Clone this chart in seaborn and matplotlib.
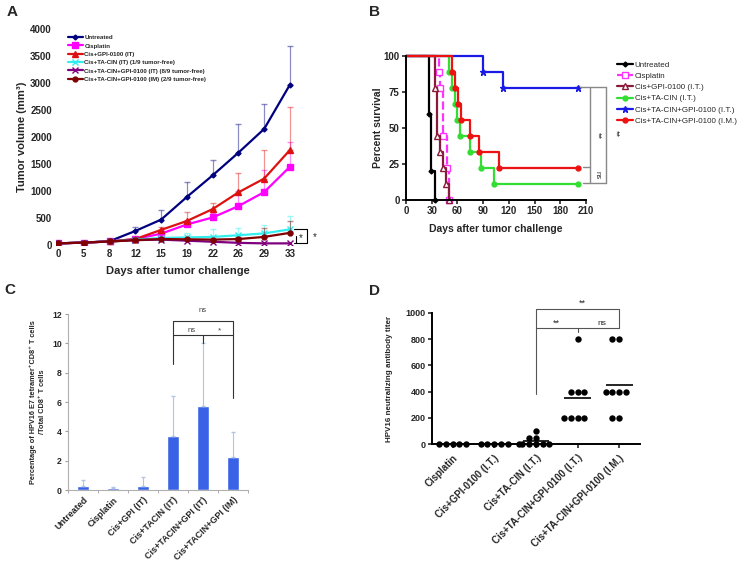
import numpy as np
import pandas as pd
import matplotlib
matplotlib.use("Agg")
import matplotlib.pyplot as plt
import seaborn as sns

# ---------------- data ----------------
# Panel A: tumor volume
a_days = [0, 5, 8, 12, 15, 19, 22, 26, 29, 33]
a_groups = ["Untreated", "Cisplatin", "Cis+GPI-0100 (IT)",
            "Cis+TA-CIN (IT) (1/9 tumor-free)",
            "Cis+TA-CIN+GPI-0100 (IT) (8/9 tumor-free)",
            "Cis+TA-CIN+GPI-0100 (IM) (2/9 tumor-free)"]
a_untreated = [30, 45, 70, 260, 470, 890, 1290, 1710, 2150, 2970]
a_cisplatin = [30, 45, 65, 110, 210, 380, 510, 720, 980, 1450]
a_cis_gpi = [30, 45, 65, 110, 280, 445, 665, 975, 1230, 1760]
a_tacin = [30, 45, 65, 100, 130, 140, 150, 180, 215, 290]
a_tacin_gpi_it = [30, 45, 65, 90, 100, 80, 60, 40, 30, 30]
a_tacin_gpi_im = [30, 45, 65, 90, 110, 105, 100, 110, 150, 225]
nan = np.nan
a_untreated_top = [nan, nan, nan, 330, 650, 1160, 1570, 2240, 2610, 3680]
a_cisplatin_top = [nan, nan, nan, 130, 250, 470, 600, 1000, 1380, 1900]
a_cis_gpi_top = [nan, nan, nan, nan, 330, 620, 780, 1340, 1750, 2550]
a_tacin_top = [nan, nan, nan, 140, 170, 220, 290, 320, 370, 530]
a_tacin_gpi_it_top = [nan, nan, nan, nan, 130, 110, 80, nan, nan, nan]
a_tacin_gpi_im_top = [nan, nan, nan, nan, nan, nan, nan, 150, 320, 440]

# Panel B: survival
b_groups = ["Untreated", "Cisplatin", "Cis+GPI-0100 (I.T.)", "Cis+TA-CIN (I.T.)",
            "Cis+TA-CIN+GPI-0100 (I.T.)", "Cis+TA-CIN+GPI-0100 (I.M.)"]
b_untreated_t = [0, 27, 29.5, 33.4]
b_untreated_s = [100, 60, 20, 0]
b_cisplatin_t = [0, 38, 40, 43, 47.7, 50.5]
b_cisplatin_s = [100, 88.9, 77.8, 44.4, 22.2, 0]
b_cis_gpi_t = [0, 33.4, 36, 40, 43, 47, 50.5]
b_cis_gpi_s = [100, 77.8, 44.4, 33.3, 22.2, 11.1, 0]
b_tacin_t = [0, 50, 54, 57, 60, 63, 75, 88, 103, 201]
b_tacin_s = [100, 88.9, 77.8, 66.7, 55.6, 44.4, 33.3, 22.2, 11.1, 11.1]
b_tacin_gpi_it_t = [0, 89.7, 113.7, 201]
b_tacin_gpi_it_s = [100, 88.9, 77.8, 77.8]
b_tacin_gpi_im_t = [0, 54, 57, 61, 64, 75, 85, 109, 201]
b_tacin_gpi_im_s = [100, 88.9, 77.8, 66.7, 55.6, 44.4, 33.3, 22.2, 22.2]

# Panel C: tetramer bars
c_labels = ["Untreated", "Cisplatin", "Cis+GPI (IT)", "Cis+TACIN (IT)",
            "Cis+TACIN+GPI (IT)", "Cis+TACIN+GPI (IM)"]
c_values = [0.27, 0.11, 0.30, 3.68, 5.73, 2.23]
c_err_top = [0.68, 0.18, 0.90, 6.43, 10.0, 3.98]

# Panel D: neutralizing antibody titers
d_labels = ["Cisplatin", "Cis+GPI-0100 (I.T.)", "Cis+TA-CIN (I.T.)",
            "Cis+TA-CIN+GPI-0100 (I.T.)", "Cis+TA-CIN+GPI-0100 (I.M.)"]
d_cisplatin = [0, 0, 0, 0, 0]
d_cis_gpi = [0, 0, 0, 0, 0]
d_tacin = [0, 0, 0, 0, 0, 0, 50, 50, 100]
d_tacin_gpi_it = [800, 400, 400, 400, 200, 200, 200, 200]
d_tacin_gpi_im = [800, 800, 400, 400, 400, 400, 200, 200]

# ---------------- style ----------------
sns.set_style("white")
plt.rcParams["font.family"] = ["Liberation Sans", "DejaVu Sans"]

W, H = 745, 568
fig = plt.figure(figsize=(7.45, 5.68), dpi=100)


def rect(l, t, r, b):
    return [l / W, 1 - b / H, (r - l) / W, (b - t) / H]


bold = dict(fontweight="bold")

# ---------------- Panel A ----------------
axA = fig.add_axes(rect(56, 29, 300, 245))
pos = np.arange(len(a_days))
a_vals = [a_untreated, a_cisplatin, a_cis_gpi, a_tacin, a_tacin_gpi_it, a_tacin_gpi_im]
a_tops = [a_untreated_top, a_cisplatin_top, a_cis_gpi_top, a_tacin_top,
          a_tacin_gpi_it_top, a_tacin_gpi_im_top]
a_colors = ["#00007f", "#ff00ff", "#dd1111", "#33eeee", "#7f007f", "#7f0000"]
a_markers = ["D", "s", "^", "x", "x", "o"]
a_ms = [2.5, 4.5, 4, 4, 4, 3.5]
for name, vals, tops, col, mk, ms in zip(a_groups, a_vals, a_tops, a_colors, a_markers, a_ms):
    vals = np.array(vals, float)
    tops = np.array(tops, float)
    m = ~np.isnan(tops)
    if m.any():
        axA.errorbar(pos[m], vals[m], yerr=[np.zeros(m.sum()), tops[m] - vals[m]],
                     fmt="none", ecolor=col, alpha=0.45, elinewidth=0.9, capsize=2)
    sns.lineplot(x=pos, y=vals, color=col, marker=mk, markersize=ms,
                 markeredgecolor=col, markerfacecolor=col, markeredgewidth=1,
                 linewidth=1.6, label=name, ax=axA, legend=False)
axA.set_xlim(-0.08, 9.39)
axA.set_ylim(0, 4000)
axA.set_xticks(pos)
axA.set_xticklabels([str(d) for d in a_days], fontsize=7, **bold)
axA.set_yticks(np.arange(0, 4001, 500))
axA.set_yticklabels([str(v) for v in range(0, 4001, 500)], fontsize=7, **bold)
axA.tick_params(length=0, pad=3)
for s in axA.spines.values():
    s.set_visible(False)
axA.set_xlabel("Days after tumor challenge", fontsize=8, **bold)
axA.set_ylabel("Tumor volume (mm³)", fontsize=8, **bold)
axA.xaxis.set_label_coords(0.5, -0.097)
axA.yaxis.set_label_coords(-0.12, 0.5)
legA = axA.legend(loc="upper left", bbox_to_anchor=((68 - 56) / 244, (245 - 35) / 216),
                  frameon=False, prop={"weight": "bold", "size": 4.4},
                  handlelength=2.4, handletextpad=0.3, labelspacing=0.5,
                  borderpad=0, borderaxespad=0)
# significance bracket
bx = dict(color="black", lw=0.8, clip_on=False)
axA.plot([9.14, 9.65, 9.65, 9.14], [290, 290, 40, 40], **bx)
axA.plot([9.22, 9.22], [40, 160], **bx)
axA.text(9.42, 120, "*", fontsize=7, ha="center", va="center", clip_on=False)
axA.text(9.95, 150, "*", fontsize=7, ha="center", va="center", clip_on=False)

# ---------------- Panel B ----------------
axB = fig.add_axes(rect(406, 56, 586, 200))
b_t = [b_untreated_t, b_cisplatin_t, b_cis_gpi_t, b_tacin_t, b_tacin_gpi_it_t, b_tacin_gpi_im_t]
b_s = [b_untreated_s, b_cisplatin_s, b_cis_gpi_s, b_tacin_s, b_tacin_gpi_it_s, b_tacin_gpi_im_s]
b_colors = ["#000000", "#ff33ff", "#8b1a3a", "#33dd33", "#1a1ae6", "#ee1111"]
b_markers = ["D", "s", "^", "o", "*", "o"]
b_ms = [2.5, 4, 4.5, 3.5, 5, 3.5]
b_face = ["#000000", "white", "white", "#33dd33", "#1a1ae6", "#ee1111"]
b_ls = ["-", "--", "-", "-", "-", "-"]
for name, t, s, col, mk, ms, fc, ls in zip(b_groups, b_t, b_s, b_colors, b_markers, b_ms, b_face, b_ls):
    sns.lineplot(x=t, y=s, color=col, marker=mk, markersize=ms, markeredgecolor=col,
                 markerfacecolor=fc, markeredgewidth=1, linewidth=1.6, linestyle=ls,
                 drawstyle="steps-post", markevery=slice(1, None), label=name,
                 ax=axB, legend=False, clip_on=False)
axB.set_xlim(0, 210)
axB.set_ylim(0, 100)
axB.set_xticks(np.arange(0, 211, 30))
axB.set_xticklabels([str(v) for v in range(0, 211, 30)], fontsize=7, **bold)
axB.set_yticks([0, 25, 50, 75, 100])
axB.set_yticklabels(["0", "25", "50", "75", "100"], fontsize=7, **bold)
sns.despine(ax=axB)
for k in ["left", "bottom"]:
    axB.spines[k].set_linewidth(1.4)
    axB.spines[k].set_color("black")
axB.tick_params(direction="out", length=3, width=1.2, pad=1.5, left=True, bottom=True)
axB.set_xlabel("Days after tumor challenge", fontsize=7.5, **bold)
axB.set_ylabel("Percent survival", fontsize=7.5, **bold)
axB.xaxis.set_label_coords(0.5, -0.17)
axB.yaxis.set_label_coords(-0.128, 0.5)
axB.legend(loc="upper left", bbox_to_anchor=(617 / W, 1 - 61 / H),
           bbox_transform=fig.transFigure, frameon=False, fontsize=5.8,
           handlelength=2.0, handletextpad=0.2, labelspacing=0.45,
           borderpad=0, borderaxespad=0)
gb = dict(color="#888888", lw=1.0, clip_on=False)
axB.plot([203, 233], [78.5, 78.5], **gb)
axB.plot([214.7, 214.7], [78.5, 11.6], **gb)
axB.plot([233, 233], [78.5, 11.6], **gb)
axB.plot([206.5, 214.7], [22.7, 22.7], **gb)
axB.plot([206.5, 233], [11.6, 11.6], **gb)
axB.text(223, 45, "**", rotation=-90, fontsize=6.5, ha="center", va="center", clip_on=False)
axB.text(223, 17.4, "ns", rotation=-90, fontsize=5.5, ha="center", va="center", clip_on=False)
axB.text(244.5, 46, "**", rotation=-90, fontsize=6.5, ha="center", va="center", clip_on=False)

# ---------------- Panel C ----------------
axC = fig.add_axes(rect(68, 314, 248, 490))
sns.barplot(x=c_labels, y=c_values, order=c_labels, color="#3a62e6", width=0.42,
            saturation=1, ax=axC)
cpos = np.arange(len(c_labels))
axC.errorbar(cpos, c_values, yerr=[np.zeros(len(c_values)),
                                  np.array(c_err_top) - np.array(c_values)],
             fmt="none", ecolor="#b4c4e4", elinewidth=0.8, capsize=1.5)
axC.set_xlim(-0.5, 5.5)
axC.set_ylim(0, 12)
axC.set_yticks(np.arange(0, 13, 2))
axC.set_yticklabels([str(v) for v in range(0, 13, 2)], fontsize=6.2, **bold)
axC.set_xticks(cpos)
axC.set_xticklabels(c_labels, fontsize=6.5, rotation=45, ha="right",
                    rotation_mode="anchor", **bold)
axC.set_xticks(np.arange(-0.5, 6, 1), minor=True)
axC.tick_params(axis="x", which="major", length=0, pad=4)
axC.tick_params(axis="x", which="minor", length=2.5, color="#a0a0a0", direction="out", bottom=True)
axC.tick_params(axis="y", length=2.5, color="#a0a0a0", direction="out", left=True, pad=2)
sns.despine(ax=axC)
for k in ["left", "bottom"]:
    axC.spines[k].set_color("#b0b0b0")
    axC.spines[k].set_linewidth(0.8)
axC.set_xlabel("")
axC.set_ylabel("Percentage of HPV16 E7 tetramer⁺CD8⁺ T cells\n/Total CD8⁺ T cells",
               fontsize=5.3, linespacing=1.5, **bold)
axC.yaxis.set_label_coords(-0.122, 0.5)
cb = dict(color="#333333", lw=0.8, clip_on=False)
axC.plot([3, 3, 5, 5], [8.6, 11.5, 11.5, 6.25], **cb)
axC.plot([3, 5], [10.6, 10.6], **cb)
axC.plot([4, 4], [10.6, 10.05], **cb)
axC.text(4, 12.25, "ns", fontsize=5.5, color="#444444", ha="center", va="center", clip_on=False)
axC.text(3.62, 10.9, "ns", fontsize=5.5, color="#444444", ha="center", va="center", clip_on=False)
axC.text(4.54, 10.85, "*", fontsize=6, color="#444444", ha="center", va="center", clip_on=False)

# ---------------- Panel D ----------------
axD = fig.add_axes(rect(431.7, 312.7, 640, 444.3))
d_vals = [d_cisplatin, d_cis_gpi, d_tacin, d_tacin_gpi_it, d_tacin_gpi_im]
dfD = pd.DataFrame({"group": np.repeat(d_labels, [len(v) for v in d_vals]),
                    "titer": np.concatenate(d_vals)})
sns.swarmplot(data=dfD, x="group", y="titer", order=d_labels, color="black",
              size=4.6, ax=axD, warn_thresh=1)
for c in axD.collections:
    c.set_clip_on(False)
means = dfD.groupby("group")["titer"].mean().reindex(d_labels)
for i, m in enumerate(means):
    axD.hlines(m, i - 0.32, i + 0.32, color="black", lw=1.2, clip_on=False)
axD.set_xlim(-0.5, 4.5)
axD.set_ylim(0, 1000)
axD.set_yticks(np.arange(0, 1001, 200))
axD.set_yticklabels([str(v) for v in range(0, 1001, 200)], fontsize=6.5, **bold)
axD.set_xticks(np.arange(len(d_labels)))
axD.set_xticklabels(d_labels, fontsize=7, rotation=45, ha="right",
                    rotation_mode="anchor", **bold)
sns.despine(ax=axD)
for k in ["left", "bottom"]:
    axD.spines[k].set_linewidth(1.4)
    axD.spines[k].set_color("black")
axD.tick_params(direction="out", length=3, width=1.2, pad=1.5, left=True, bottom=True)
axD.tick_params(axis="x", pad=3)
axD.set_xlabel("")
axD.set_ylabel("HPV16 neutralizing antibody titer", fontsize=5.8, **bold)
axD.yaxis.set_label_coords(-0.185, 0.5)
db = dict(color="#555555", lw=0.8, clip_on=False)
axD.plot([2, 2, 4, 4], [380, 1028, 1028, 882], **db)
axD.plot([2, 4], [882, 882], **db)
axD.plot([3, 3], [882, 856], **db)
axD.text(3.12, 1035, "**", fontsize=6.5, ha="center", va="bottom", clip_on=False)
axD.text(2.5, 886, "**", fontsize=6.5, ha="center", va="bottom", clip_on=False)
axD.text(3.58, 888, "ns", fontsize=6, ha="center", va="bottom", clip_on=False)

# ---------------- panel letters ----------------
for lab, x, y in [("A", 12, 12), ("B", 374, 12), ("C", 10, 290), ("D", 374, 291)]:
    fig.text(x / W, 1 - y / H, lab, fontsize=11, fontweight="bold",
             ha="center", va="center")

fig.savefig("out.png", dpi=100)
